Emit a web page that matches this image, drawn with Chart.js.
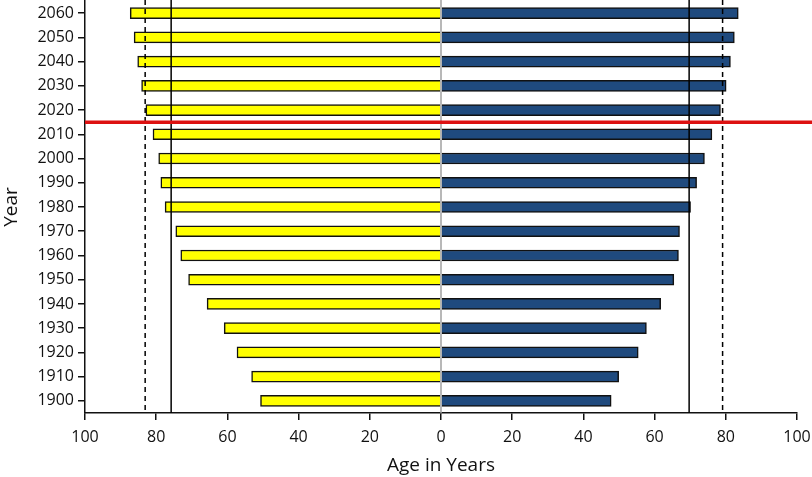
<!DOCTYPE html>
<html>
<head>
<meta charset="utf-8">
<script src="https://cdn.jsdelivr.net/npm/chart.js@4/dist/chart.umd.min.js"></script>
<style>
html,body{margin:0;padding:0;background:#fff;}
#wrap{width:812px;height:477px;position:relative;}
</style>
</head>
<body>
<div id="wrap"><canvas id="c" width="812" height="477"></canvas></div>
<script>
const years = ['2060','2050','2040','2030','2020','2010','2000','1990','1980','1970','1960','1950','1940','1930','1920','1910','1900'];
const women = [87.3,86.2,85.2,84.1,82.9,80.9,79.3,78.7,77.5,74.5,73.1,70.9,65.7,60.9,57.3,53.2,50.7];
const men   = [83.5,82.4,81.3,80.1,78.5,76.1,74.0,71.8,70.1,67.0,66.7,65.4,61.7,57.7,55.4,49.9,47.8];
const xTicks = [-100,-80,-60,-40,-20,0,20,40,60,80,100];
const solidLines = [-75.8, 69.7];
const dashedLines = [-83.1, 79.1];
const dividerBetween = ['2020','2010'];

const FONT = "'Open Sans', 'Noto Sans', sans-serif";

const overlay = {
  id: 'overlay',
  afterDatasetsDraw(chart) {
    const {ctx, chartArea: a, scales: {x, y}} = chart;
    ctx.save();
    ctx.strokeStyle = '#a0a0a0';
    ctx.lineWidth = 1.5;
    ctx.beginPath();
    const x0 = x.getPixelForValue(0);
    ctx.moveTo(x0, 0); ctx.lineTo(x0, a.bottom); ctx.stroke();
    ctx.strokeStyle = '#000';
    ctx.lineWidth = 1.5;
    solidLines.forEach(v => {
      const px = x.getPixelForValue(v);
      ctx.beginPath(); ctx.moveTo(px, 0); ctx.lineTo(px, a.bottom); ctx.stroke();
    });
    ctx.setLineDash([5, 4]);
    dashedLines.forEach(v => {
      const px = x.getPixelForValue(v);
      ctx.beginPath(); ctx.moveTo(px, 0); ctx.lineTo(px, a.bottom); ctx.stroke();
    });
    ctx.setLineDash([]);
    const y1 = y.getPixelForValue(years.indexOf(dividerBetween[0]));
    const y2 = y.getPixelForValue(years.indexOf(dividerBetween[1]));
    const yr = (y1 + y2) / 2;
    ctx.strokeStyle = '#dd1111';
    ctx.lineWidth = 3.5;
    ctx.beginPath(); ctx.moveTo(a.left, yr); ctx.lineTo(chart.width, yr); ctx.stroke();
    ctx.restore();
  }
};

new Chart(document.getElementById('c'), {
  type: 'bar',
  data: {
    labels: years,
    datasets: [
      {label: 'Women', data: women.map(v => -v), backgroundColor: '#ffff00', borderColor: '#111', borderWidth: 1.5, barThickness: 11},
      {label: 'Men', data: men, backgroundColor: '#1f4a7e', borderColor: '#111', borderWidth: 1.5, barThickness: 11}
    ]
  },
  plugins: [overlay],
  options: {
    indexAxis: 'y',
    responsive: false,
    animation: false,
    layout: {padding: {top: 1, right: 15, left: 0, bottom: 0}},
    plugins: {legend: {display: false}, tooltip: {enabled: false}},
    scales: {
      x: {
        stacked: true,
        min: -100, max: 100,
        afterBuildTicks(s) { s.ticks = xTicks.map(v => ({value: v})); },
        afterFit(s) { s.height = 64; s.paddingLeft = 0; s.paddingRight = 0; },
        ticks: {
          callback: v => Math.abs(v),
          color: '#111', font: {family: FONT, size: 16}, padding: 8, maxRotation: 0, autoSkip: false
        },
        grid: {drawOnChartArea: false, drawTicks: true, tickLength: 7, color: '#111', lineWidth: 1.5},
        border: {display: true, color: '#111', width: 1.5},
        title: {display: true, text: 'Age in Years', color: '#111', font: {family: FONT, size: 19}, padding: {top: 0, bottom: 0}}
      },
      y: {
        stacked: true,
        afterFit(s) { s.width = 85; s.paddingTop = 0; s.paddingBottom = 0; },
        ticks: {color: '#111', font: {family: FONT, size: 16}, padding: 4, autoSkip: false},
        grid: {drawOnChartArea: false, drawTicks: true, tickLength: 7, color: '#111', lineWidth: 1.5, offset: false},
        border: {display: true, color: '#111', width: 1.5},
        title: {display: true, text: 'Year', color: '#111', font: {family: FONT, size: 19}, padding: {top: 0, bottom: 0}}
      }
    }
  }
});
</script>
</body>
</html>
